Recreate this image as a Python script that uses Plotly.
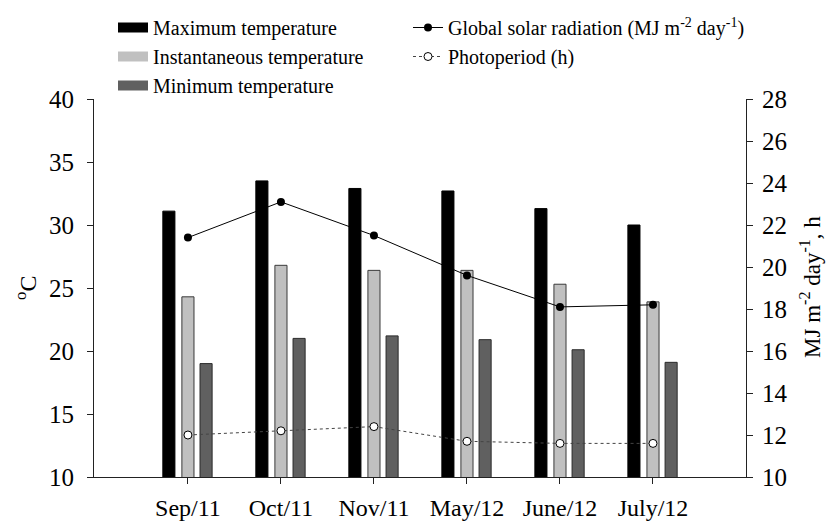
import plotly.graph_objects as go

months = ["Sep/11", "Oct/11", "Nov/11", "May/12", "June/12", "July/12"]
max_temp = [31.1, 33.5, 32.9, 32.7, 31.3, 30.0]
inst_temp = [24.3, 26.8, 26.4, 26.4, 25.3, 23.9]
min_temp = [19.0, 21.0, 21.2, 20.9, 20.1, 19.1]
solar_rad = [21.4, 23.1, 21.5, 19.6, 18.1, 18.2]
photoperiod = [12.0, 12.2, 12.4, 11.7, 11.6, 11.6]

xpos = list(range(len(months)))
FONT = "Liberation Serif, Times New Roman, serif"
BW = 0.13

# page body has an 8px default margin, so the figure is sized to fit the window
W, H = 829, 515
L, R, T, B = 86, 91, 91, 46
PW = W - L - R
PH = H - T - B

fig = go.Figure()

bar_specs = [
    ("Maximum temperature", max_temp, "#000000", "#000000", -0.27),
    ("Instantaneous temperature", inst_temp, "#c0c0c0", "#3a3a3a", -0.065),
    ("Minimum temperature", min_temp, "#606060", "#2a2a2a", 0.13),
]
for name, vals, col, lc, off in bar_specs:
    fig.add_trace(go.Bar(
        x=xpos, y=vals, width=BW, offset=off, name=name,
        marker=dict(color=col, line=dict(color=lc, width=1)),
        showlegend=False, yaxis="y"))
for name, vals, col, lc, off in bar_specs:
    # legend swatch: a one-point line (draws nothing in the plot)
    fig.add_trace(go.Scatter(
        x=xpos[:1], y=vals[:1], mode="lines", name=name,
        line=dict(color=col, width=11),
        legend="legend", showlegend=True, hoverinfo="skip"))

fig.add_trace(go.Scatter(
    x=xpos, y=solar_rad, yaxis="y2", mode="lines+markers",
    name="Global solar radiation (MJ m<sup>-2</sup> day<sup>-1</sup>)",
    line=dict(color="#000000", width=1),
    marker=dict(color="#000000", size=8, symbol="circle"),
    legend="legend2"))
fig.add_trace(go.Scatter(
    x=xpos, y=photoperiod, yaxis="y2", mode="lines+markers",
    name="Photoperiod (h)",
    line=dict(color="#444444", width=1, dash="dot"),
    marker=dict(color="#ffffff", size=8, symbol="circle",
                line=dict(color="#000000", width=1)),
    legend="legend2"))

line_common = dict(
    showline=True, linecolor="#222222", linewidth=1, ticks="outside",
    ticklen=6, tickcolor="#222222", showgrid=False, zeroline=False)

fig.update_layout(
    width=W, height=H,
    margin=dict(l=L, r=R, t=T, b=B, autoexpand=False),
    paper_bgcolor="white", plot_bgcolor="white",
    barmode="overlay",
    font=dict(family=FONT, color="#000000"),
    xaxis=dict(
        range=[-1.01, 6.0], tickvals=xpos, ticktext=months, ticklabelstandoff=3,
        tickfont=dict(family=FONT, size=24, color="#000000"), **line_common),
    yaxis=dict(range=[10, 40], dtick=5, ticklabelstandoff=8,
               tickfont=dict(family=FONT, size=25, color="#000000"), **line_common),
    yaxis2=dict(range=[10, 28], dtick=2, overlaying="y", side="right", ticklabelstandoff=4,
                tickfont=dict(family=FONT, size=25, color="#000000"), **line_common),
    legend=dict(x=105 / W, y=1.0, xref="container", yref="container", xanchor="left", yanchor="top",
                font=dict(family=FONT, size=20, color="#000000"), bgcolor="rgba(0,0,0,0)",
                tracegroupgap=0, itemwidth=30),
    legend2=dict(x=400 / W, y=1.0, xref="container", yref="container", xanchor="left", yanchor="top",
                 font=dict(family=FONT, size=20, color="#000000"), bgcolor="rgba(0,0,0,0)",
                 tracegroupgap=0, itemwidth=30),
    annotations=[
        dict(text="<sup>o</sup>C", textangle=-90, showarrow=False,
             xref="paper", yref="paper", x=(1 - L) / PW, y=(469 - 280) / PH,
             xanchor="left", yanchor="middle", font=dict(family=FONT, size=24)),
        dict(text="MJ m<sup>-2</sup> day<sup>-1</sup>, h", textangle=-90, showarrow=False,
             xref="paper", yref="paper", x=(802 - L) / PW, y=(469 - 279) / PH,
             xanchor="center", yanchor="middle", font=dict(family=FONT, size=23)),
    ],
)

fig.write_html("out.html")
